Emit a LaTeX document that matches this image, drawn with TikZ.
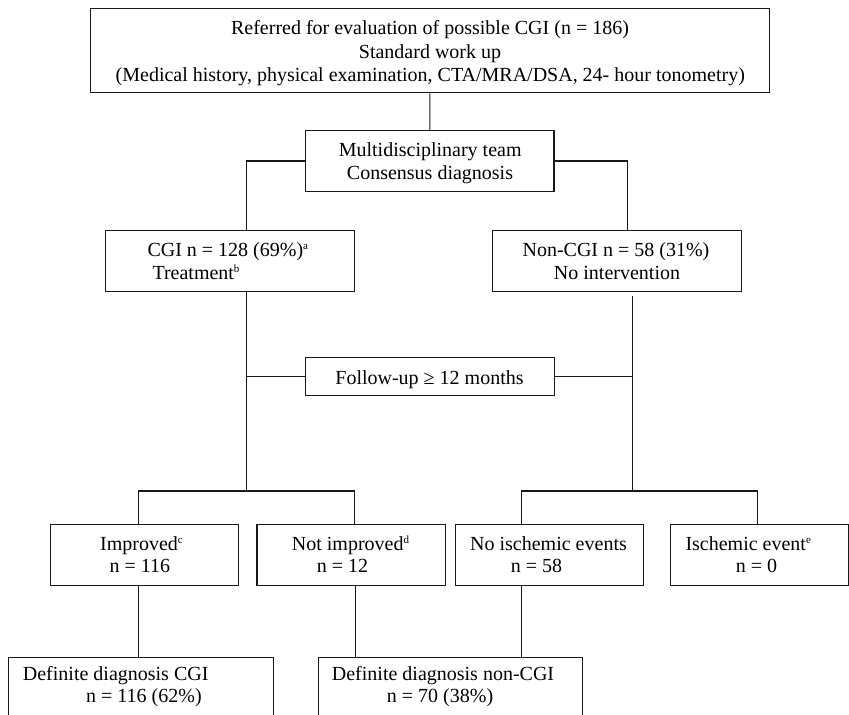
\documentclass[tikz,border=0pt]{standalone}
\usepackage{fontspec}
\setmainfont{Liberation Serif}
\newcommand\supx[1]{\raisebox{7pt}{\fontsize{11}{11}\selectfont #1}}
\begin{document}
\begin{tikzpicture}[x=1pt,y=-1pt,
  box/.style={draw=black!90, line width=1.1pt, inner sep=0pt, rectangle},
  ln/.style={draw=black!90, line width=1.1pt},
  txt/.style={inner sep=0pt, font=\fontsize{20}{24}\selectfont},
  tc/.style={txt, anchor=base},
  tl/.style={txt, anchor=base west}]
\clip (0,0) rectangle (849,715);
% boxes
\node[box, minimum width=679pt, minimum height=84.4pt] (top) at (429.8,50.5) {};
\node[box, minimum width=248.3pt, minimum height=61.4pt] (multi) at (429.85,161) {};
\node[box, minimum width=248.6pt, minimum height=61pt] (cgi) at (230,261.1) {};
\node[box, minimum width=249pt, minimum height=61pt] (noncgi) at (616.8,261.2) {};
\node[box, minimum width=249pt, minimum height=38pt] (fu) at (429.8,376.7) {};
\node[box, minimum width=188pt, minimum height=61.4pt] (imp) at (144.3,555) {};
\node[box, minimum width=188.3pt, minimum height=61.4pt] (notimp) at (351.15,555) {};
\node[box, minimum width=188.4pt, minimum height=61.4pt] (noisch) at (549.5,555) {};
\node[box, minimum width=178pt, minimum height=61.4pt] (isch) at (759.3,555) {};
\node[box, minimum width=264.6pt, minimum height=80pt] (defcgi) at (141,697.7) {};
\node[box, minimum width=264.2pt, minimum height=80pt] (defnon) at (450.6,697.7) {};
% texts
\node[tc] (t1a) at (430,34.3) {Referred for evaluation of possible CGI (n = 186)};
\node[tc] (t1b) at (430,58.3) {Standard work up};
\node[tc] (t1c) at (430.3,81.7) {(Medical history, physical examination, CTA/MRA/DSA, 24- hour tonometry)};
\node[tc] (t2a) at (430.2,156.7) {Multidisciplinary team};
\node[tc] (t2b) at (430,179.2) {Consensus diagnosis};
\node[tl] (t3a) at (147.3,256.7) {CGI n = 128 (69\%)\supx{a}};
\node[tl] (t3b) at (152.3,279.3) {Treatment\supx{b}};
\node[tc] (t4a) at (616,256.7) {Non-CGI n = 58 (31\%)};
\node[tc] (t4b) at (617,279.8) {No intervention};
\node[tc] (t5) at (429.5,384) {Follow-up ≥ 12 months};
\node[tl] (t6a) at (100,550.5) {Improved\supx{c}};
\node[tl] (t6b) at (109.3,572.5) {n = 116};
\node[tl] (t7a) at (291.7,550.5) {Not improved\supx{d}};
\node[tl] (t7b) at (316.7,572.5) {n = 12};
\node[tl] (t8a) at (470,550.5) {No ischemic events};
\node[tl] (t8b) at (510.7,572.5) {n = 58};
\node[tl] (t9a) at (685.3,550.5) {Ischemic event\supx{e}};
\node[tl] (t9b) at (735.7,572.5) {n = 0};
\node[tl] (t10a) at (22.7,680) {Definite diagnosis CGI};
\node[tl] (t10b) at (86,702.5) {n = 116 (62\%)};
\node[tl] (t11a) at (331.7,680) {Definite diagnosis non-CGI};
\node[tl] (t11b) at (386.7,702.5) {n = 70 (38\%)};
% connectors
\coordinate (jl) at (246.3,491);
\coordinate (jr) at (632.8,491);
\draw[ln] (top.south) -- (multi.north);
\draw[ln] (multi.west) -| ([xshift=16.3pt]cgi.north);
\draw[ln] (multi.east) -| ([xshift=10.5pt]noncgi.north);
\draw[ln] ([xshift=16.3pt]cgi.south) -- (jl);
\draw[ln] ([xshift=16pt,yshift=-4pt]noncgi.south) -- (jr);
\draw[ln] (fu.west) -- (fu.west -| jl);
\draw[ln] (fu.east) -- (fu.east -| jr);
\draw[ln] ([xshift=-5.6pt]imp.north) -- ([xshift=-5.6pt]imp.north |- jl) -- ([xshift=3.15pt]notimp.north |- jl) -- ([xshift=3.15pt]notimp.north);
\draw[ln] ([xshift=-27.8pt]noisch.north) -- ([xshift=-27.8pt]noisch.north |- jr) -- ([xshift=-2pt]isch.north |- jr) -- ([xshift=-2pt]isch.north);
\draw[ln] ([xshift=-5.6pt]imp.south) -- ([xshift=-5.6pt]imp.south |- defcgi.north);
\draw[ln] ([xshift=4.5pt]notimp.south) -- ([xshift=4.5pt]notimp.south |- defnon.north);
\draw[ln] ([xshift=-27.8pt]noisch.south) -- ([xshift=-27.8pt]noisch.south |- defnon.north);
\end{tikzpicture}
\end{document}
